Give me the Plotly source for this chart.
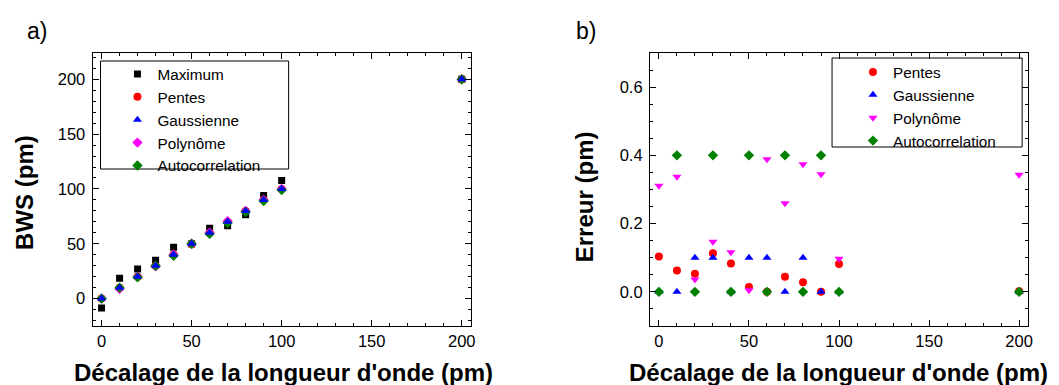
import plotly.graph_objects as go

W, H = 1059, 385

# ---- data ----
x_vals = [0, 10, 20, 30, 40, 50, 60, 70, 80, 90, 100, 200]

bws_maximum = [-8.5, 18.6, 27.1, 35, 46.9, 50, 64.2, 66.4, 76.4, 94, 107.8, 200]
bws_pentes = [0, 10, 20, 30, 40, 49.5, 60, 70, 80, 90, 100, 200]
bws_gauss = [0, 10, 20, 30, 40, 50, 60, 70, 80, 90, 100, 200]
bws_poly = [0, 9, 20, 29.5, 40, 50, 60, 70.5, 80, 90, 100, 200]
bws_auto = [0, 10, 19.5, 30, 39, 50, 59, 69, 79, 89, 99, 200]

err_pentes = [0.104, 0.063, 0.053, 0.113, 0.083, 0.014, 0.0, 0.044, 0.028, 0.0, 0.082, 0.002]
err_gauss = [0.0, 0.0, 0.1, 0.1, 0.0, 0.1, 0.1, 0.0, 0.1, 0.0, 0.0, 0.0]
err_poly = [0.311, 0.337, 0.036, 0.147, 0.116, 0.005, 0.389, 0.26, 0.374, 0.345, 0.097, 0.343]
err_auto = [0.0, 0.4, 0.0, 0.4, 0.0, 0.4, 0.0, 0.4, 0.0, 0.4, 0.0, 0.0]

FONT = "Liberation Sans, Arial, sans-serif"

fig = go.Figure()

def add(x, y, name, color, symbol, xa, ya, legend, rank, size=8):
    fig.add_trace(go.Scatter(
        x=x, y=y, mode="markers", name=name, legendrank=rank,
        marker=dict(color=color, symbol=symbol, size=size, line=dict(width=0)),
        xaxis=xa, yaxis=ya, legend=legend,
    ))

add(x_vals, bws_maximum, "Maximum", "black", "square", "x", "y", "legend", 1, 7)
add(x_vals, bws_pentes, "Pentes", "red", "circle", "x", "y", "legend", 2)
add(x_vals, bws_poly, "Polynôme", "magenta", "diamond", "x", "y", "legend", 4)
add(x_vals, bws_auto, "Autocorrelation", "green", "diamond", "x", "y", "legend", 5)
add(x_vals, bws_gauss, "Gaussienne", "blue", "triangle-up", "x", "y", "legend", 3)

add(x_vals, err_pentes, "Pentes", "red", "circle", "x2", "y2", "legend2", 1)
add(x_vals, err_gauss, "Gaussienne", "blue", "triangle-up", "x2", "y2", "legend2", 2)
add(x_vals, err_poly, "Polynôme", "magenta", "triangle-down", "x2", "y2", "legend2", 3)
add(x_vals, err_auto, "Autocorrelation", "green", "diamond", "x2", "y2", "legend2", 4)

def px_x(p):
    return p / W

def px_y(p):
    return 1 - p / H

axis_common = dict(
    showline=True, linecolor="black", linewidth=1, mirror="allticks",
    ticks="inside", ticklen=6, tickcolor="black", tickwidth=1,
    showgrid=False, zeroline=False,
    tickfont=dict(family=FONT, size=16.5, color="black"),
    minor=dict(ticks="inside", ticklen=3, tickcolor="black", showgrid=False),
)

legend_common = dict(
    xanchor="left", yanchor="top",
    borderwidth=0, bgcolor="rgba(0,0,0,0)",
    font=dict(family=FONT, size=15.3, color="black"),
    traceorder="normal", itemwidth=30, tracegroupgap=0,
)

fig.update_layout(
    width=W, height=H,
    margin=dict(l=0, r=0, t=0, b=0),
    paper_bgcolor="white", plot_bgcolor="white",
    font=dict(family=FONT, color="black"),
    xaxis=dict(domain=[px_x(93), px_x(473)], range=[-5, 205], dtick=50,
               anchor="y", **axis_common),
    yaxis=dict(domain=[px_y(326), px_y(53)], range=[-25, 224], dtick=50,
               anchor="x", ticklabelstandoff=3, **axis_common),
    xaxis2=dict(domain=[px_x(653), px_x(1033)], range=[-5, 205], dtick=50,
                anchor="y2", **axis_common),
    yaxis2=dict(domain=[px_y(326), px_y(53)], range=[-0.1, 0.7], dtick=0.2,
                tickformat=".1f", anchor="x2", ticklabelstandoff=3, **axis_common),
    legend=dict(x=px_x(118), y=px_y(57.5), **legend_common),
    legend2=dict(x=px_x(857), y=px_y(55.5), **legend_common),
    showlegend=True,
    shapes=[
        dict(type="rect", xref="paper", yref="paper",
             x0=px_x(101), x1=px_x(290), y0=px_y(169), y1=px_y(61),
             line=dict(color="black", width=1), fillcolor="rgba(0,0,0,0)"),
        dict(type="rect", xref="paper", yref="paper",
             x0=px_x(836), x1=px_x(1027), y0=px_y(147), y1=px_y(58),
             line=dict(color="black", width=1), fillcolor="rgba(0,0,0,0)"),
    ],
)

annotations = [
    dict(text="a)", x=px_x(37), y=px_y(31), font=dict(size=23)),
    dict(text="b)", x=px_x(589), y=px_y(31), font=dict(size=23)),
    dict(text="<b>Décalage de la longueur d'onde (pm)</b>", x=px_x(285), y=px_y(372),
         font=dict(size=24)),
    dict(text="<b>Décalage de la longueur d'onde (pm)</b>", x=px_x(842), y=px_y(372),
         font=dict(size=24)),
    dict(text="<b>BWS (pm)</b>", x=px_x(25), y=px_y(192), textangle=-90,
         font=dict(size=24)),
    dict(text="<b>Erreur (pm)</b>", x=px_x(588), y=px_y(197), textangle=-90,
         font=dict(size=24)),
]
for a in annotations:
    a.update(xref="paper", yref="paper", showarrow=False,
             xanchor="center", yanchor="middle")
    a["font"].update(family=FONT, color="black")
fig.update_layout(annotations=annotations)

fig.write_html("out.html", config={"displayModeBar": False},
               post_script="document.body.style.margin='0';")
